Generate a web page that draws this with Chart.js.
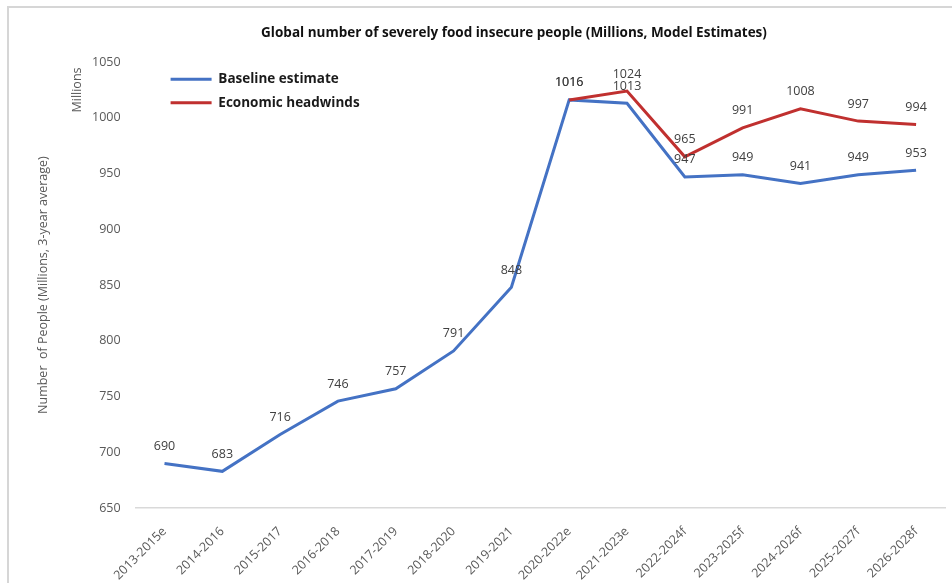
<!DOCTYPE html>
<html>
<head>
<meta charset="utf-8">
<title>Global number of severely food insecure people</title>
<script src="https://cdn.jsdelivr.net/npm/chart.js@4.4.1/dist/chart.umd.min.js"></script>
<style>
  html, body { margin: 0; padding: 0; background: #fff; width: 952px; height: 583px; overflow: hidden; }
  /* grey frame round the chart, its right and bottom edges fall outside the window */
  #frame { position: absolute; left: 7px; top: 6px; width: 1100px; height: 700px; border: 2px solid #d6d6d6; box-sizing: border-box; }
  /* canvas is a bit taller than the window, the rotated labels end at the window edge */
  #wrap { position: absolute; left: 0; top: 0; width: 952px; height: 583px; overflow: hidden; }
</style>
</head>
<body>
<div id="frame"></div>
<div id="wrap"><canvas id="foodChart" width="952" height="599"></canvas></div>
<script>
// categories (3-year windows)
const periods = ['2013-2015e', '2014-2016', '2015-2017', '2016-2018', '2017-2019', '2018-2020', '2019-2021',
    '2020-2022e', '2021-2023e', '2022-2024f', '2023-2025f', '2024-2026f', '2025-2027f', '2026-2028f'];

// millions of people
const baselineValues = [690, 683, 716, 746, 757, 791, 848, 1016, 1013, 947, 949, 941, 949, 953];
const headwindsValues = [null, null, null, null, null, null, null, 1016, 1024, 965, 991, 1008, 997, 994];

// y axis ticks
const yTickMin = 650;
const yTickMax = 1050;
const yTickStep = 50;

const FONT = '"Open Sans", "Liberation Sans", sans-serif';
const chartTitle = 'Global number of severely food insecure people (Millions, Model Estimates)';

// numbers above every point, plus the title and the small "Millions" label
const valueLabels = {
    id: 'valueLabels',
    afterDatasetsDraw(chart) {
        const ctx = chart.ctx;
        ctx.save();
        ctx.font = '12.5px ' + FONT;
        ctx.fillStyle = '#404040';
        ctx.textAlign = 'center';
        ctx.textBaseline = 'middle';
        chart.data.datasets.forEach((ds, di) => {
            const meta = chart.getDatasetMeta(di);
            meta.data.forEach((pt, i) => {
                const v = ds.data[i];
                if (v === null || v === undefined) return;
                ctx.fillText(String(v), pt.x, pt.y - 17);
            });
        });
        ctx.restore();
    },
    afterDraw(chart) {
        const ctx = chart.ctx;
        ctx.save();
        ctx.textAlign = 'center';
        ctx.textBaseline = 'middle';
        // title (centred on the original, wider, frame)
        ctx.font = 'bold 13.5px ' + FONT;
        ctx.fillStyle = '#111';
        ctx.fillText(chartTitle, 514, 33);
        // unit label next to the top ticks
        ctx.font = '12.5px ' + FONT;
        ctx.fillStyle = '#595959';
        ctx.translate(77, 90);
        ctx.rotate(-Math.PI / 2);
        ctx.fillText('Millions', 0, 0);
        ctx.restore();
    }
};

// move the in-chart legend to its spot at the top left of the plot
const legendSpot = {
    id: 'legendSpot',
    afterLayout(chart) {
        const lg = chart.legend;
        if (!lg) return;
        const w = lg.width;
        lg.left = chart.chartArea.left + 25;
        lg.top = chart.chartArea.top + 0.5;
        lg.right = lg.left + w;
        lg.bottom = chart.chartArea.bottom;
    }
};

const foodChart = new Chart(document.getElementById('foodChart').getContext('2d'), {
    type: 'line',
    data: {
        labels: periods,
        datasets: [{
            label: 'Baseline estimate',
            data: baselineValues,
            borderColor: '#4472c4',
            backgroundColor: '#4472c4',
            borderWidth: 3,
            pointRadius: 0,
            tension: 0,
            fill: false,
            order: 1
        }, {
            label: 'Economic headwinds',
            data: headwindsValues,
            borderColor: '#c0302f',
            backgroundColor: '#c0302f',
            borderWidth: 3,
            pointRadius: 0,
            tension: 0,
            fill: false,
            order: 0
        }]
    },
    options: {
        responsive: false,
        animation: false,
        layout: {
            padding: { left: 30, right: 7, top: 62, bottom: 0 }
        },
        plugins: {
            title: { display: false },
            legend: {
                position: 'chartArea',
                align: 'start',
                labels: {
                    boxWidth: 41,
                    boxHeight: 0,
                    padding: 10,
                    color: '#1a1a1a',
                    font: { family: FONT, size: 13.5, weight: 'bold' },
                    sort: (a, b) => a.datasetIndex - b.datasetIndex
                }
            },
            tooltip: { enabled: false }
        },
        scales: {
            x: {
                offset: true,
                grid: { display: false, drawTicks: false },
                border: { display: true, color: '#d9d9d9', width: 1.5 },
                ticks: {
                    color: '#595959',
                    font: { family: FONT, size: 12.5 },
                    minRotation: 45,
                    maxRotation: 45,
                    padding: 16,
                    autoSkip: false
                }
            },
            y: {
                min: yTickMin,
                max: yTickMax,
                grid: { display: false, drawTicks: false },
                border: { display: false },
                ticks: {
                    stepSize: yTickStep,
                    color: '#595959',
                    font: { family: FONT, size: 12.5 },
                    padding: 15,
                    callback: (v) => String(v)
                },
                title: {
                    display: true,
                    text: 'Number  of People (Millions, 3-year average)',
                    color: '#595959',
                    font: { family: FONT, size: 12.5 },
                    padding: { top: 6, bottom: 26 }
                }
            }
        }
    },
    plugins: [valueLabels, legendSpot]
});
</script>
</body>
</html>
